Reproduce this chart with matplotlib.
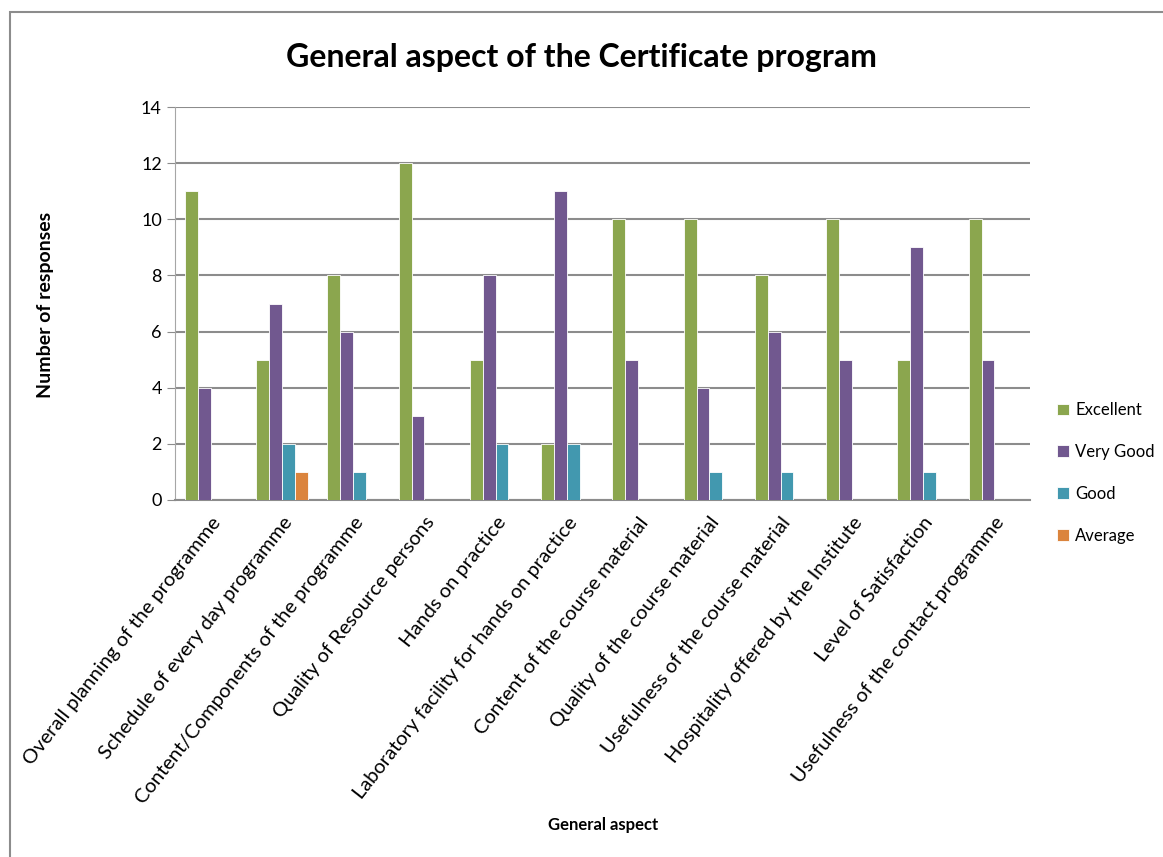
import numpy as np
import matplotlib.pyplot as plt
from matplotlib.patches import Rectangle

aspects = ['Overall planning of the programme', 'Schedule of every day programme',
           'Content/Components of the programme', 'Quality of Resource persons',
           'Hands on practice', 'Laboratory facility for hands on practice',
           'Content of the course material', 'Quality of the course material',
           'Usefulness of the course material', 'Hospitality offered by the Institute',
           'Level of Satisfaction', 'Usefulness of the contact programme']
excellent = [11, 5, 8, 12, 5, 2, 10, 10, 8, 10, 5, 10]
very_good = [4, 7, 6, 3, 8, 11, 5, 4, 6, 5, 9, 5]
good = [0, 2, 1, 0, 2, 2, 0, 1, 1, 0, 1, 0]
average = [0, 1, 0, 0, 0, 0, 0, 0, 0, 0, 0, 0]

series = [('Excellent', excellent, '#8ba64e'),
          ('Very Good', very_good, '#71588f'),
          ('Good', good, '#4298af'),
          ('Average', average, '#db843d')]

plt.rcParams['font.family'] = ['Lato', 'DejaVu Sans']

fig = plt.figure(figsize=(11.63, 8.57), dpi=100)
ax = fig.add_axes([175/1163, 1-500/857, 855/1163, 393/857])

# outer chart frame
fig.patches.append(Rectangle((10/1163, -0.1), 1.2, 1-12/857+0.1, transform=fig.transFigure,
                             fill=False, edgecolor='#8c8c8c', linewidth=1.5))

x = np.arange(len(aspects))
w = 0.18
for i, (name, vals, col) in enumerate(series):
    ax.bar(x + (i - 1.5) * w, vals, w, color=col, label=name,
           edgecolor='white', linewidth=0.6, zorder=3)

ax.set_xlim(-0.5, len(aspects) - 0.5)
ax.set_ylim(0, 14)
ax.set_yticks(range(0, 15, 2))
ax.yaxis.grid(True, color='#8c8c8c', linewidth=1.5, zorder=0)
for s in ['top', 'right']:
    ax.spines[s].set_visible(False)
ax.spines['left'].set_color('#a6a6a6')
ax.spines['bottom'].set_color('#8c8c8c')
ax.spines['bottom'].set_linewidth(1.5)
ax.tick_params(axis='y', length=6, color='#8c8c8c', labelsize=13)
ax.tick_params(axis='x', length=0, labelsize=14.5, pad=10)
ax.set_xticks(x)
ax.set_xticklabels(aspects, rotation=52, ha='right', rotation_mode='anchor')

fig.text(0.5, 1-57/857, 'General aspect of the Certificate program', ha='center', va='center',
         fontsize=23, fontweight='bold')
fig.text(46/1163, 1-305/857, 'Number of responses', rotation=90, ha='center', va='center',
         fontsize=14, fontweight='bold')
fig.text(603/1163, 1-825/857, 'General aspect', ha='center', va='center',
         fontsize=12, fontweight='bold')

ax.legend(loc='center left', bbox_to_anchor=(1042/1163, 1-473/857),
          bbox_transform=fig.transFigure, frameon=False, fontsize=12,
          handlelength=0.7, handleheight=0.7, handletextpad=0.4, labelspacing=1.55)

fig.savefig('out.png', dpi=100)
